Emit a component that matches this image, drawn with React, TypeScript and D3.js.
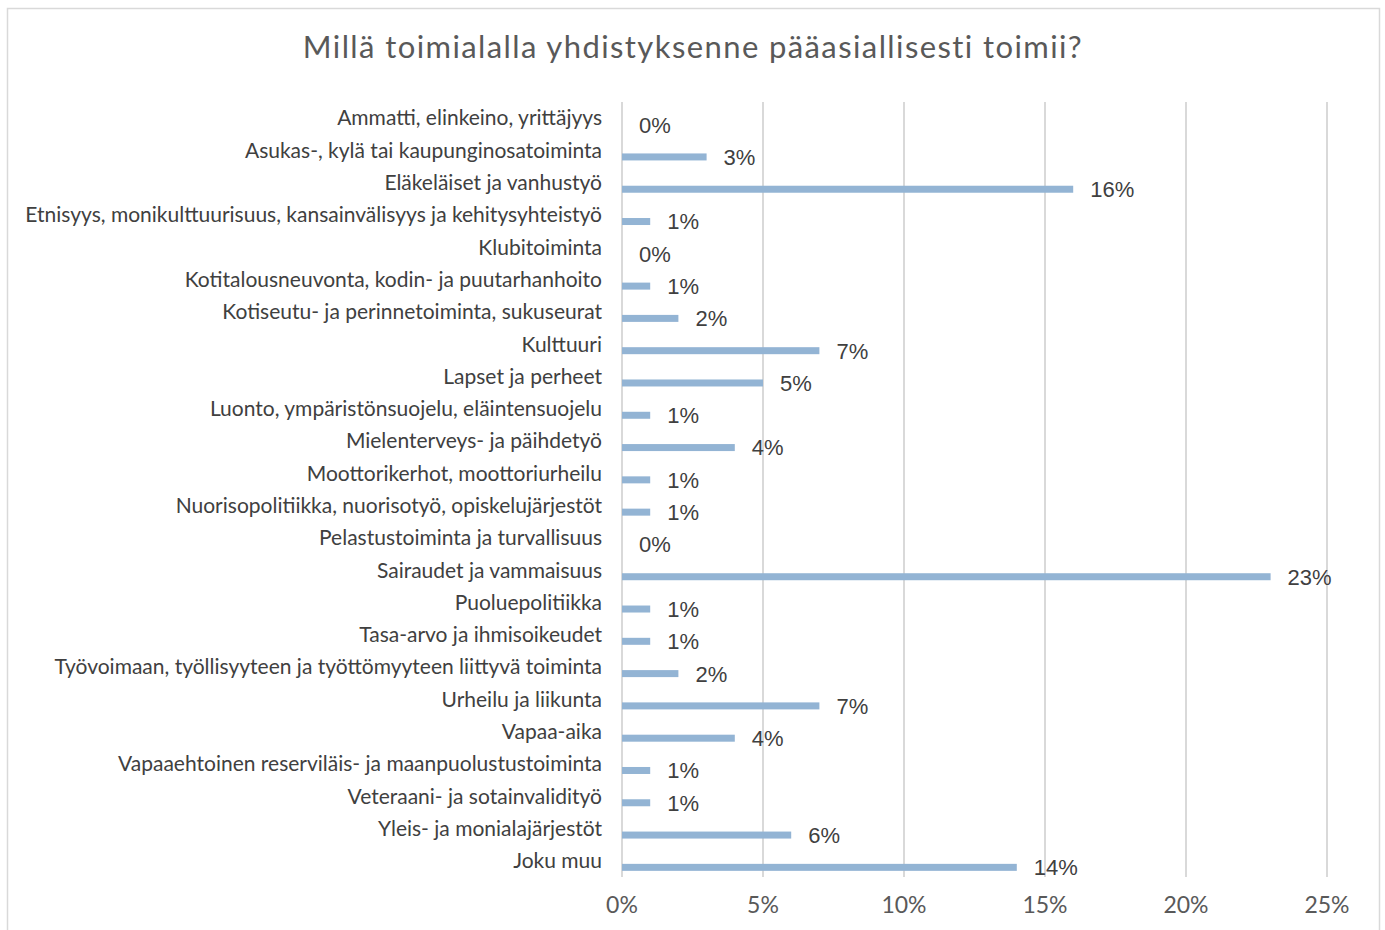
import React from "react";
import * as d3 from "d3";

const title = "Millä toimialalla yhdistyksenne pääasiallisesti toimii?";
const categories = [
  "Ammatti, elinkeino, yrittäjyys",
  "Asukas-, kylä tai kaupunginosatoiminta",
  "Eläkeläiset ja vanhustyö",
  "Etnisyys, monikulttuurisuus, kansainvälisyys ja kehitysyhteistyö",
  "Klubitoiminta",
  "Kotitalousneuvonta, kodin- ja puutarhanhoito",
  "Kotiseutu- ja perinnetoiminta, sukuseurat",
  "Kulttuuri",
  "Lapset ja perheet",
  "Luonto, ympäristönsuojelu, eläintensuojelu",
  "Mielenterveys- ja päihdetyö",
  "Moottorikerhot, moottoriurheilu",
  "Nuorisopolitiikka, nuorisotyö, opiskelujärjestöt",
  "Pelastustoiminta ja turvallisuus",
  "Sairaudet ja vammaisuus",
  "Puoluepolitiikka",
  "Tasa-arvo ja ihmisoikeudet",
  "Työvoimaan, työllisyyteen ja työttömyyteen liittyvä toiminta",
  "Urheilu ja liikunta",
  "Vapaa-aika",
  "Vapaaehtoinen reserviläis- ja maanpuolustustoiminta",
  "Veteraani- ja sotainvaliditytyö".replace("ditytyö", "dityö"),
  "Yleis- ja monialajärjestöt",
  "Joku muu",
];
const values = [0, 3, 16, 1, 0, 1, 2, 7, 5, 1, 4, 1, 1, 0, 23, 1, 1, 2, 7, 4, 1, 1, 6, 14];
const ticks = [0, 5, 10, 15, 20, 25];

const W = 1385;
const H = 930;
const catFont = "'Century Gothic', 'URW Gothic', Lato, sans-serif";

export default function App() {
  const x = d3.scaleLinear().domain([0, 25]).range([622, 1327]);
  const y = d3.scaleBand<string>().domain(categories).range([102, 877]).padding(0);
  const barH = 7;
  const barOff = 6.5;
  return (
    <svg width={W} height={H} style={{ position: "absolute", left: 0, top: 0, background: "#fff" }}>
      <rect x={7.5} y={8.5} width={1372} height={H} fill="#fff" stroke="#d9d9d9" strokeWidth={1.5} />
      <text x={693} y={58} textAnchor="middle" fontFamily={catFont} fontSize={31} letterSpacing={1.4} fill="#595959">
        {title}
      </text>
      {ticks.map((t) => (
        <line key={"g" + t} x1={x(t)} x2={x(t)} y1={102} y2={877} stroke="#d9d9d9" strokeWidth={2} />
      ))}
      {categories.map((c, i) => {
        const cy = (y(c) as number) + y.bandwidth() / 2;
        return (
          <g key={c}>
            <text x={602} y={cy} dy="0.35em" textAnchor="end" fontFamily={catFont} fontSize={21} fill="#404040">
              {c}
            </text>
            {values[i] > 0 && (
              <rect x={x(0)} y={cy + barOff - barH / 2} width={x(values[i]) - x(0)} height={barH} fill="#93b4d4" />
            )}
            <text x={x(values[i]) + 17} y={cy + barOff} dy="0.36em" fontFamily="'Liberation Sans', Arial, sans-serif" fontSize={22} fill="#404040">
              {values[i] + "%"}
            </text>
          </g>
        );
      })}
      {ticks.map((t) => (
        <text key={"t" + t} x={x(t)} y={905} dy="0.35em" textAnchor="middle" fontFamily={catFont} fontSize={23} fill="#595959">
          {t + "%"}
        </text>
      ))}
    </svg>
  );
}
